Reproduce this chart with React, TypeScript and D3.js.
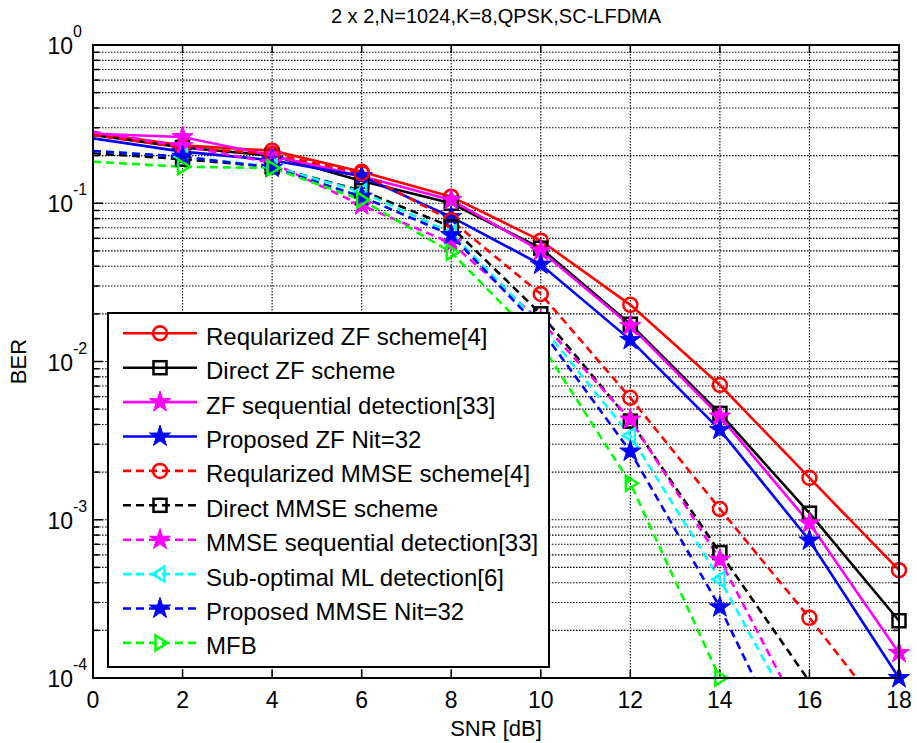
import React, { useRef, useEffect } from "react";
import * as d3 from "d3";

// SNR points (dB)
const snr = [0, 2, 4, 6, 8, 10, 12, 14, 16, 18];

// BER values (null = not plotted)
const regZF = [0.278, 0.232, 0.215, 0.158, 0.11, 0.058, 0.0228, 0.0071, 0.00184, 0.00048];
const directZF = [0.27, 0.225, 0.2, 0.138, 0.1, 0.052, 0.0172, 0.0047, 0.0011, 0.00023];
const zfSeq = [0.275, 0.262, 0.2, 0.148, 0.105, 0.05, 0.0168, 0.0045, 0.00095, 0.000144];
const propZF = [0.257, 0.212, 0.187, 0.148, 0.082, 0.041, 0.0137, 0.0037, 0.00074, 0.0001];
const regMMSE = [0.27, 0.225, 0.205, 0.155, 0.078, 0.0267, 0.0059, 0.00117, 0.00024, 0.000045];
const directMMSE = [0.207, 0.19, 0.17, 0.12, 0.071, 0.02, 0.0042, 0.00062, 0.000095, null];
const mmseSeq = [0.283, 0.23, 0.18, 0.097, 0.056, 0.018, 0.0043, 0.00056, 0.000046, null];
const subML = [0.214, 0.197, 0.17, 0.118, 0.065, 0.017, 0.0034, 0.00042, 0.000039, null];
const propMMSE = [0.214, 0.197, 0.168, 0.11, 0.063, 0.016, 0.0027, 0.00028, 0.000019, null];
const mfb = [0.183, 0.17, 0.167, 0.105, 0.049, 0.013, 0.0017, 0.0001, null, null];

const names = [
  "Reqularized ZF scheme[4]",
  "Direct ZF scheme",
  "ZF sequential detection[33]",
  "Proposed ZF Nit=32",
  "Reqularized MMSE scheme[4]",
  "Direct MMSE scheme",
  "MMSE sequential detection[33]",
  "Sub-optimal ML detection[6]",
  "Proposed MMSE Nit=32",
  "MFB",
];
const colors = ["#ff0000", "#000000", "#ff00ff", "#0000ff", "#ff0000", "#000000", "#ff00ff", "#00ffff", "#0000ff", "#00ff00"];
const markers = ["circle", "square", "star", "star", "circle", "square", "star", "triLeft", "star", "triRight"];
const dashed = [false, false, false, false, true, true, true, true, true, true];
const allValues = [regZF, directZF, zfSeq, propZF, regMMSE, directMMSE, mmseSeq, subML, propMMSE, mfb];

const xTicks = [0, 2, 4, 6, 8, 10, 12, 14, 16, 18];
const yDecades = [0, -1, -2, -3, -4];

const FONT = "'Liberation Sans', Arial, sans-serif";

function App() {
  const svgRef = useRef(null);

  const svgWidth = 917;
  const svgHeight = 743;
  const left = 93, right = 899, top = 45, bottom = 678;

  useEffect(() => {
    const svg = d3.select(svgRef.current);
    svg.selectAll("*").remove();

    const xScale = d3.scaleLinear().domain([0, 18]).range([left, right]);
    const yScale = d3.scaleLog().domain([1e-4, 1]).range([bottom, top]);

    svg.append("rect").attr("width", svgWidth).attr("height", svgHeight).attr("fill", "#fff");

    svg.append("defs").append("clipPath").attr("id", "plot-clip")
      .append("rect").attr("x", left).attr("y", top).attr("width", right - left).attr("height", bottom - top);

    // grid
    const grid = svg.append("g").attr("stroke", "#000").attr("stroke-width", 1.1)
      .attr("stroke-dasharray", "1.5,1.5").attr("fill", "none");
    xTicks.slice(1, -1).forEach((t) => {
      grid.append("line").attr("x1", xScale(t)).attr("x2", xScale(t)).attr("y1", top).attr("y2", bottom);
    });
    const minorVals = [];
    for (let k = -4; k < 0; k++) {
      for (let m = 1; m <= 9; m++) {
        const v = m * Math.pow(10, k);
        if (v > 1e-4) minorVals.push({ v, major: m === 1 });
      }
    }
    minorVals.forEach((d) => {
      grid.append("line").attr("x1", left).attr("x2", right).attr("y1", yScale(d.v)).attr("y2", yScale(d.v));
    });

    // ticks
    const ticks = svg.append("g").attr("stroke", "#000").attr("stroke-width", 1.5);
    xTicks.forEach((t) => {
      ticks.append("line").attr("x1", xScale(t)).attr("x2", xScale(t)).attr("y1", bottom).attr("y2", bottom - 8);
      ticks.append("line").attr("x1", xScale(t)).attr("x2", xScale(t)).attr("y1", top).attr("y2", top + 8);
    });
    minorVals.forEach((d) => {
      const len = d.major ? 10 : 6;
      const yy = yScale(d.v);
      ticks.append("line").attr("x1", left).attr("x2", left + len).attr("y1", yy).attr("y2", yy);
      ticks.append("line").attr("x1", right).attr("x2", right - len).attr("y1", yy).attr("y2", yy);
    });

    // curves
    const line = d3.line()
      .defined((d) => d[1] != null)
      .x((d) => xScale(d[0]))
      .y((d) => yScale(d[1]));

    const curves = svg.append("g").attr("clip-path", "url(#plot-clip)");
    const markG = svg.append("g");

    const drawMarker = (g, type, color, cx, cy) => {
      if (type === "circle") {
        g.append("circle").attr("cx", cx).attr("cy", cy).attr("r", 7)
          .attr("fill", "none").attr("stroke", color).attr("stroke-width", 2.5);
      } else if (type === "square") {
        g.append("rect").attr("x", cx - 6.5).attr("y", cy - 6.5).attr("width", 13).attr("height", 13)
          .attr("fill", "none").attr("stroke", color).attr("stroke-width", 2.5);
      } else if (type === "star") {
        g.append("path").attr("d", d3.symbol(d3.symbolStar, 140)()).attr("transform", `translate(${cx},${cy})`)
          .attr("fill", color).attr("stroke", color).attr("stroke-width", 1);
      } else {
        const s = 7.5;
        const pts = type === "triLeft"
          ? [[cx - s, cy], [cx + s * 0.6, cy - s], [cx + s * 0.6, cy + s]]
          : [[cx + s, cy], [cx - s * 0.6, cy - s], [cx - s * 0.6, cy + s]];
        g.append("polygon").attr("points", pts.map((p) => p.join(",")).join(" "))
          .attr("fill", "none").attr("stroke", color).attr("stroke-width", 2.5).attr("stroke-linejoin", "miter");
      }
    };

    allValues.forEach((vals, i) => {
      const pts = snr.map((s, j) => [s, vals[j]]);
      curves.append("path").datum(pts).attr("d", line)
        .attr("fill", "none").attr("stroke", colors[i]).attr("stroke-width", 2.6)
        .attr("stroke-dasharray", dashed[i] ? "8,5" : null);
      pts.forEach((p, j) => {
        if (j === 0 || p[1] == null || p[1] < 0.99e-4) return;
        drawMarker(markG, markers[i], colors[i], xScale(p[0]), yScale(p[1]));
      });
    });

    // axes box
    svg.append("rect").attr("x", left).attr("y", top).attr("width", right - left).attr("height", bottom - top)
      .attr("fill", "none").attr("stroke", "#000").attr("stroke-width", 2);

    // tick labels
    xTicks.forEach((t) => {
      svg.append("text").attr("x", xScale(t)).attr("y", 708).attr("text-anchor", "middle")
        .attr("font-family", FONT).attr("font-size", 23).text(t);
    });
    yDecades.forEach((k) => {
      const yy = yScale(Math.pow(10, k));
      svg.append("text").attr("x", 73).attr("y", yy + 9).attr("text-anchor", "end")
        .attr("font-family", FONT).attr("font-size", 23).text("10");
      svg.append("text").attr("x", 73).attr("y", yy - 8).attr("text-anchor", "start")
        .attr("font-family", FONT).attr("font-size", 16).text(String(k));
    });

    // titles
    svg.append("text").attr("x", (left + right) / 2).attr("y", 23).attr("text-anchor", "middle")
      .attr("font-family", FONT).attr("font-size", 20).text("2 x 2,N=1024,K=8,QPSK,SC-LFDMA");
    svg.append("text").attr("x", (left + right) / 2).attr("y", 736).attr("text-anchor", "middle")
      .attr("font-family", FONT).attr("font-size", 22).text("SNR [dB]");
    svg.append("text").attr("transform", `translate(26,${(top + bottom) / 2}) rotate(-90)`)
      .attr("text-anchor", "middle").attr("font-family", FONT).attr("font-size", 22).text("BER");

    // legend
    const lg = svg.append("g");
    lg.append("rect").attr("x", 108).attr("y", 313).attr("width", 441).attr("height", 354)
      .attr("fill", "#fff").attr("stroke", "#000").attr("stroke-width", 2);
    names.forEach((name, i) => {
      const ry = 333.3 + i * 34.4;
      lg.append("line").attr("x1", 123).attr("x2", 197).attr("y1", ry).attr("y2", ry)
        .attr("stroke", colors[i]).attr("stroke-width", 2.6)
        .attr("stroke-dasharray", dashed[i] ? "8,5" : null);
      drawMarker(lg, markers[i], colors[i], 160, ry);
      lg.append("text").attr("x", 206).attr("y", ry + 11.5)
        .attr("font-family", FONT).attr("font-size", 24).text(name);
    });
  }, []);

  return (
    <svg ref={svgRef} width={svgWidth} height={svgHeight}
      style={{ position: "absolute", left: 0, top: 0, display: "block" }} />
  );
}

export default App;
